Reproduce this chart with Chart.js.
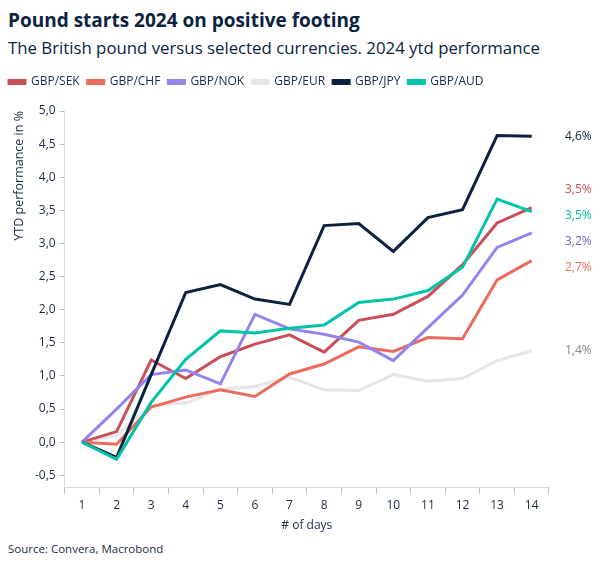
<!DOCTYPE html>
<html>
<head>
<meta charset="utf-8">
<script src="https://cdn.jsdelivr.net/npm/chart.js@4/dist/chart.umd.min.js"></script>
<style>
  html, body { margin: 0; padding: 0; background: #fff; }
  body { width: 604px; height: 566px; position: relative; overflow: hidden; font-family: "Open Sans", "Noto Sans", sans-serif; color: #0b2341; }
  #title { position: absolute; left: 8px; top: 7px; font-size: 19px; font-weight: 700; white-space: nowrap; }
  #subtitle { position: absolute; left: 8px; top: 36px; font-size: 16.8px; font-weight: 400; white-space: nowrap; }
  #wrap { position: absolute; left: 0; top: 66px; width: 604px; height: 471px; }
  #source { position: absolute; left: 8px; top: 541px; font-size: 11.5px; color: #1a2b49; white-space: nowrap; }
</style>
</head>
<body>
<div id="title">Pound starts 2024 on positive footing</div>
<div id="subtitle">The British pound versus selected currencies. 2024 ytd performance</div>
<div id="wrap"><canvas id="c"></canvas></div>
<div id="source">Source: Convera, Macrobond</div>
<script>
const days = ['1','2','3','4','5','6','7','8','9','10','11','12','13','14'];
const seriesNames = ['GBP/SEK','GBP/CHF','GBP/NOK','GBP/EUR','GBP/JPY','GBP/AUD'];
const gbpSek = [0, 0.16, 1.24, 0.96, 1.29, 1.48, 1.62, 1.36, 1.84, 1.93, 2.20, 2.68, 3.31, 3.54];
const gbpChf = [0, -0.03, 0.53, 0.68, 0.79, 0.69, 1.03, 1.18, 1.44, 1.37, 1.58, 1.56, 2.45, 2.74];
const gbpNok = [0, 0.50, 1.02, 1.09, 0.88, 1.93, 1.71, 1.63, 1.51, 1.23, 1.73, 2.22, 2.94, 3.16];
const gbpEur = [0, 0.10, 0.55, 0.59, 0.80, 0.84, 0.98, 0.79, 0.78, 1.02, 0.92, 0.96, 1.23, 1.38];
const gbpJpy = [0, -0.23, 1.02, 2.26, 2.38, 2.16, 2.08, 3.27, 3.30, 2.88, 3.39, 3.51, 4.63, 4.62];
const gbpAud = [0, -0.26, 0.60, 1.25, 1.68, 1.65, 1.72, 1.77, 2.11, 2.16, 2.29, 2.64, 3.67, 3.48];
const yTickValues = [-0.5, 0, 0.5, 1, 1.5, 2, 2.5, 3, 3.5, 4, 4.5, 5];

const lineColors = ['#c9505a', '#ec6b5f', '#9484f0', '#e6e6e6', '#0b2341', '#00c4aa'];
const labelColors = ['#c9505a', '#ec6b5f', '#7d62c0', '#8a8a8a', '#0b2341', '#00b8a0'];
const allSeries = [gbpSek, gbpChf, gbpNok, gbpEur, gbpJpy, gbpAud];
const navy = '#1a2b49';
const fmt = v => v.toFixed(1).replace('.', ',');

const legendSpacing = {
  id: 'legendSpacing',
  beforeInit(chart) {
    const lg = chart.legend;
    const origFit = lg.fit;
    lg.fit = function () {
      origFit.call(this);
      this.height += 13;
    };
    const origDraw = lg.draw;
    lg.draw = function (area) {
      const ctx = this.ctx;
      ctx.save();
      ctx.translate(-7, 0);
      origDraw.call(this, area);
      ctx.restore();
    };
  }
};

const endLabelPlugin = {
  id: 'endLabels',
  afterDatasetsDraw(chart) {
    const ctx = chart.ctx;
    const items = chart.data.datasets.map((ds, i) => {
      const meta = chart.getDatasetMeta(i);
      const pt = meta.data[meta.data.length - 1];
      const v = ds.data[ds.data.length - 1];
      return { y: pt.y, text: fmt(v) + '%', color: labelColors[i] };
    }).sort((a, b) => a.y - b.y);
    const gap = 26;
    let groups = items.map(it => ({ members: [it], center: it.y }));
    let changed = true;
    while (changed) {
      changed = false;
      for (let g = 0; g < groups.length - 1; g++) {
        const a = groups[g], b = groups[g + 1];
        const aBottom = a.center + (a.members.length - 1) * gap / 2;
        const bTop = b.center - (b.members.length - 1) * gap / 2;
        if (bTop - aBottom < gap) {
          const members = a.members.concat(b.members);
          const center = members.reduce((s, m) => s + m.y, 0) / members.length;
          groups.splice(g, 2, { members, center });
          changed = true;
          break;
        }
      }
    }
    ctx.save();
    ctx.font = '12px "Open Sans", sans-serif';
    ctx.textBaseline = 'middle';
    ctx.textAlign = 'left';
    const x = chart.chartArea.right + 16;
    groups.forEach(g => {
      const start = g.center - (g.members.length - 1) * gap / 2;
      g.members.forEach((m, k) => {
        ctx.fillStyle = m.color;
        ctx.fillText(m.text, x, start + k * gap);
      });
    });
    ctx.restore();
  }
};

new Chart(document.getElementById('c'), {
  type: 'line',
  data: {
    labels: days,
    datasets: seriesNames.map((name, i) => ({
      label: name,
      data: allSeries[i],
      borderColor: lineColors[i],
      backgroundColor: lineColors[i],
      borderWidth: 3,
      pointRadius: 0,
      tension: 0,
      order: i === 3 ? 10 : (i === 4 ? 1 : 5 - i)
    }))
  },
  options: {
    responsive: true,
    maintainAspectRatio: false,
    animation: false,
    layout: { padding: { left: 8, right: 55, top: 2, bottom: 0 } },
    plugins: {
      legend: {
        position: 'top',
        align: 'start',
        labels: {
          boxWidth: 16,
          boxHeight: 3,
          padding: 8,
          color: navy,
          font: { family: '"Open Sans", sans-serif', size: 12 },
          sort: (a, b) => a.datasetIndex - b.datasetIndex
        }
      },
      tooltip: { enabled: false }
    },
    scales: {
      x: {
        type: 'category',
        offset: true,
        grid: { display: true, drawOnChartArea: false, offset: true, tickLength: 7, color: '#bfbfbf' },
        border: { color: '#d9d9d9' },
        ticks: { color: navy, font: { family: '"Open Sans", sans-serif', size: 12 }, padding: 4, maxRotation: 0 },
        title: { display: true, text: '# of days', color: navy, font: { family: '"Open Sans", sans-serif', size: 12 }, padding: { top: 2 } }
      },
      y: {
        min: -0.68,
        max: 5.0,
        afterBuildTicks(axis) { axis.ticks = yTickValues.map(v => ({ value: v })); },
        grid: { display: true, drawOnChartArea: false, tickLength: 5, color: '#bfbfbf' },
        border: { color: '#d9d9d9' },
        ticks: { color: navy, font: { family: '"Open Sans", sans-serif', size: 12 }, padding: 4, callback: v => fmt(v) },
        title: { display: true, text: 'YTD performance in %', align: 'end', color: navy, font: { family: '"Open Sans", sans-serif', size: 12.5 }, padding: { bottom: 4 } }
      }
    }
  },
  plugins: [legendSpacing, endLabelPlugin]
});
</script>
</body>
</html>
